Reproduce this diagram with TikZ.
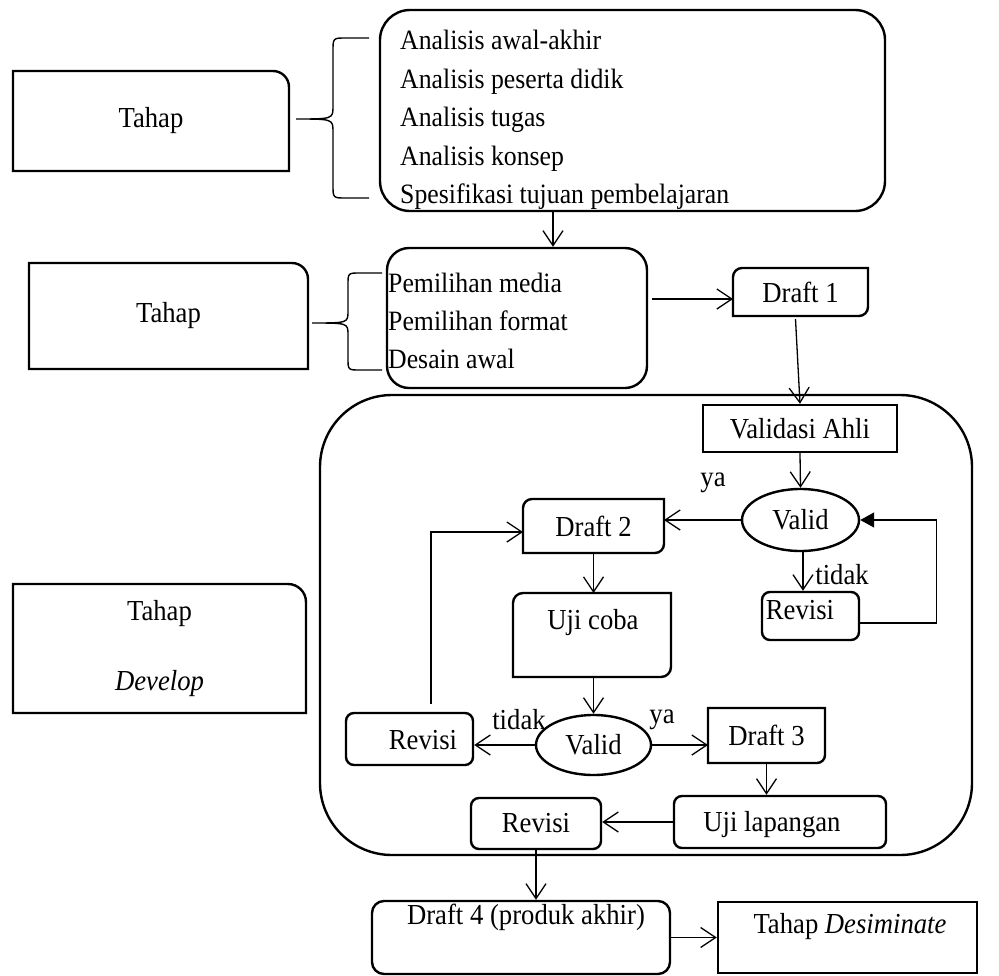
\documentclass[tikz,border=0pt]{standalone}
\usepackage{fontspec}
\setmainfont{Liberation Serif}[FakeStretch=0.92]
\usetikzlibrary{arrows.meta,shapes.geometric}

\tikzset{
  boxline/.style={line width=2.4pt},
  box/.style={draw, boxline, inner sep=0pt, align=center},
  shell/.style={inner sep=0pt, outer sep=0pt, align=center},
  cond/.style={ellipse, draw, boxline, inner sep=0pt},
  txt/.style={inner sep=0pt},
  arr/.style={line width=1.3pt, -{Straight Barb[length=15pt,width=20pt,line width=1.3pt]}},
  back/.style={line width=1.3pt, -{Triangle[length=14pt,width=15pt]}},
  brace/.style={line width=1.4pt},
}

% box outlines with only some corners rounded
\newcommand{\boxTR}[2]{\draw[boxline] (#1.south west) -- (#1.north west) -- ([xshift=-#2]#1.north east) arc[start angle=90,end angle=0,radius=#2] -- (#1.south east) -- cycle;}
\newcommand{\boxTLBR}[2]{\draw[boxline] (#1.south west) -- ([yshift=-#2]#1.north west) arc[start angle=180,end angle=90,radius=#2] -- (#1.north east) -- ([yshift=#2]#1.south east) arc[start angle=0,end angle=-90,radius=#2] -- cycle;}
\newcommand{\boxBR}[2]{\draw[boxline] (#1.south west) -- (#1.north west) -- (#1.north east) -- ([yshift=#2]#1.south east) arc[start angle=0,end angle=-90,radius=#2] -- cycle;}

\begin{document}
\begin{tikzpicture}[x=1pt, y=-1pt, font=\fontsize{29}{34}\selectfont]
\useasboundingbox (0,0) rectangle (999,975);

% Tahap define
\node[shell, minimum width=276pt, minimum height=100pt] (tahapA) at (151,121) {Tahap};
\boxTR{tahapA}{16pt}
\node[box, rounded corners=30pt, minimum width=505pt, minimum height=201pt] (analisis) at (632.5,110.5) {};
\node[txt, align=left, anchor=west, font=\fontsize{28}{38.5}\selectfont] (analisisList) at (400,120)
  {Analisis awal-akhir\\Analisis peserta didik\\Analisis tugas\\Analisis konsep\\Spesifikasi tujuan pembelajaran};
\draw[brace] (369,38) -- (346,38) .. controls (333,38) .. (333,51) -- (333,106) .. controls (333,119) .. (296,119)
  .. controls (333,119) .. (333,132) -- (333,185) .. controls (333,198) .. (346,198) -- (369,198);

% Tahap design
\node[shell, minimum width=279pt, minimum height=106pt] (tahapB) at (168.5,316) {Tahap};
\boxTR{tahapB}{16pt}
\node[box, rounded corners=22pt, minimum width=260pt, minimum height=140pt] (pemilihan) at (517,318) {};
\node[txt, align=left, anchor=west, font=\fontsize{28}{38}\selectfont] (pemilihanList) at (388,321)
  {Pemilihan media\\Pemilihan format\\Desain awal};
\draw[brace] (382,273) -- (360,273) .. controls (348,273) .. (348,285) -- (348,311) .. controls (348,323) .. (312,323)
  .. controls (348,323) .. (348,335) -- (348,358) .. controls (348,370) .. (360,370) -- (382,370);
\node[shell, minimum width=135pt, minimum height=48pt] (draft1) at (800.5,292) {Draft 1};
\boxTLBR{draft1}{9pt}

% Tahap develop
\node[shell, minimum width=293pt, minimum height=129pt] (tahapC) at (159.5,648.5) {Tahap\\[36pt]\textit{Develop}};
\boxTR{tahapC}{18pt}
\node[box, rounded corners=72pt, minimum width=652pt, minimum height=460pt] (develop) at (646,625) {};
\node[box, minimum width=194pt, minimum height=47pt] (validasi) at (800,428.5) {Validasi Ahli};
\node[cond, minimum width=117pt, minimum height=62pt] (valid1) at (800.5,520) {Valid};
\node[shell, minimum width=141pt, minimum height=54pt] (draft2) at (593.5,526) {Draft 2};
\boxTLBR{draft2}{9pt}
\node[box, rounded corners=8pt, minimum width=97pt, minimum height=48pt] (revisiR) at (810.5,616) {};
\node[txt] (revisiRText) at (800,610) {Revisi};
\node[shell, minimum width=158pt, minimum height=84pt] (ujicoba) at (592,635) {};
\boxTLBR{ujicoba}{10pt}
\node[txt] (ujicobaText) at (593,623) {Uji coba};
\node[cond, minimum width=115pt, minimum height=60pt] (valid2) at (593.5,745) {Valid};
\node[box, rounded corners=8pt, minimum width=127pt, minimum height=52pt] (revisiL) at (409.5,739) {};
\node[txt] (revisiLText) at (423,740) {Revisi};
\node[shell, minimum width=117pt, minimum height=55pt] (draft3) at (766.5,735.5) {Draft 3};
\boxBR{draft3}{8pt}
\node[box, rounded corners=8pt, minimum width=212pt, minimum height=52pt] (ujilap) at (780,822) {};
\node[txt] (ujilapText) at (772,825) {Uji lapangan};
\node[box, rounded corners=8pt, minimum width=130pt, minimum height=51pt] (revisiB) at (536,823.5) {Revisi};

% Tahap desiminate
\node[box, rounded corners=12pt, minimum width=298pt, minimum height=73pt] (draft4) at (521,937.5) {};
\node[txt] (draft4Text) at (526,917) {Draft 4 (produk akhir)};
\node[box, minimum width=259pt, minimum height=71pt] (desim) at (847.5,937.5) {};
\node[txt] (desimText) at (850,927) {Tahap \textit{Desiminate}};

% labels
\node[txt] (ya1) at (713,483) {ya};
\node[txt] (tidak1) at (842,575) {tidak};
\node[txt] (tidak2) at (519,720) {tidak};
\node[txt] (ya2) at (662,720) {ya};

% connectors
\coordinate (a1) at ([xshift=-79.5pt]analisis.south);
\draw[arr] (a1) -- (a1 |- pemilihan.north);
\coordinate (p1) at (652,299);
\draw[arr] (p1) -- (p1 -| draft1.west);
\draw[arr] ([xshift=-5pt,yshift=-3pt]draft1.south) -- (validasi.north);
\draw[arr] (validasi.south) -- (valid1.north);
\draw[arr] (valid1.west) -- (valid1.west -| draft2.east);
\coordinate (v1) at ([xshift=2.5pt]valid1.south);
\draw[arr] (v1) -- (v1 |- revisiR.north);
\coordinate (r1) at ([yshift=-7pt]revisiR.east);
\draw[back] (r1) -- ++(76pt,0pt) |- (valid1.east);
\draw[arr] (draft2.south) -- (draft2.south |- ujicoba.north);
\draw[arr] (valid2.north |- ujicoba.south) -- (valid2.north);
\draw[arr] (valid2.west) -- (valid2.west -| revisiL.east);
\coordinate (r2) at ([xshift=21.5pt,yshift=8pt]revisiL.north);
\coordinate (d2) at ([yshift=-6pt]draft2.west);
\draw[arr] (r2) |- (d2);
\draw[arr] (valid2.east) -- (valid2.east -| draft3.west);
\draw[arr] (draft3.south) -- (draft3.south |- ujilap.north);
\draw[arr] (ujilap.west) -- (ujilap.west -| revisiB.east);
\draw[arr] (revisiB.south) -- (revisiB.south |- draft4.north);
\draw[arr] (draft4.east) -- (desim.west);
\end{tikzpicture}
\end{document}
